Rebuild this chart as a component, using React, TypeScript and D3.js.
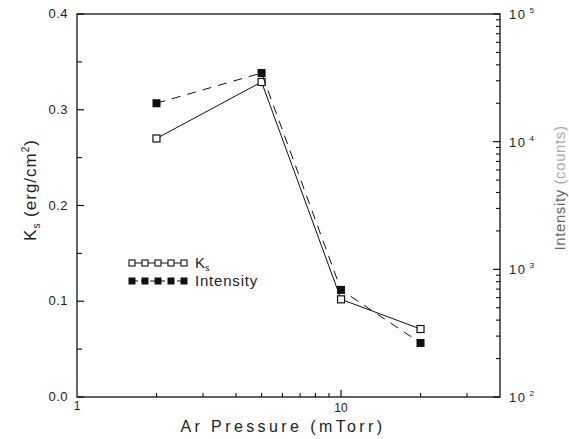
import React from 'react';
import { scaleLog, scaleLinear, line } from 'd3';

// Ar pressure (mTorr) and the two measured series
const pressures = [2, 5, 10, 20];
const ksValues = [0.27, 0.329, 0.102, 0.071];
const intensityValues = [20000, 34500, 690, 265];

const ksTicks = [0, 0.1, 0.2, 0.3, 0.4];
const ksMinorTicks = [0.05, 0.15, 0.25, 0.35];
const pressureLabels = [1, 10];
const intensityDecades = [100, 1000, 10000, 100000];

const W = 569;
const H = 439;
const left = 77, right = 500, top = 14, bottom = 397;
const font = "'Liberation Sans', Arial, sans-serif";

export default function App() {
  const x = scaleLog().domain([1, 40]).range([left, right]);
  const yK = scaleLinear().domain([0, 0.4]).range([bottom, top]);
  const yI = scaleLog().domain([100, 100000]).range([bottom, top]);

  const ksPts = pressures.map((p, i) => [x(p), yK(ksValues[i])] as [number, number]);
  const inPts = pressures.map((p, i) => [x(p), yI(intensityValues[i])] as [number, number]);
  const path = line();

  const xMinor = x.ticks().filter(t => t > 1 && t < 40 && t !== 10);
  const yIMinor = yI.ticks().filter(t => !intensityDecades.includes(t));

  const legendXs = [132, 145, 158, 171, 184];

  return (
    <svg width={W} height={H} style={{ position: 'absolute', left: 0, top: 0, background: '#fff' }}
      fontFamily={font}>
      {/* frame */}
      <rect x={left} y={top} width={right - left} height={bottom - top} fill="none" stroke="#111" strokeWidth={1.3} />

      {/* left axis */}
      {ksTicks.map(t => (
        <g key={'k' + t}>
          <line x1={left} x2={left + 7} y1={yK(t)} y2={yK(t)} stroke="#111" strokeWidth={1.2} />
          <text x={68} y={yK(t) + 4} fontSize={13} textAnchor="end" fill="#222" letterSpacing={0.5}>{t.toFixed(1)}</text>
        </g>
      ))}
      {ksMinorTicks.map(t => (
        <line key={'km' + t} x1={left} x2={left + 5} y1={yK(t)} y2={yK(t)} stroke="#111" strokeWidth={1.1} />
      ))}

      {/* bottom axis */}
      {xMinor.map(t => (
        <line key={'xm' + t} x1={x(t)} x2={x(t)} y1={bottom} y2={bottom - 4} stroke="#111" strokeWidth={1.1} />
      ))}
      <line x1={x(10)} x2={x(10)} y1={bottom} y2={bottom - 7} stroke="#111" strokeWidth={1.2} />
      {pressureLabels.map(t => (
        <text key={'xl' + t} x={x(t)} y={t === 1 ? 410 : 412} fontSize={12} textAnchor="middle" fill="#222">{t}</text>
      ))}

      {/* right axis */}
      {yIMinor.map(t => (
        <line key={'im' + t} x1={right} x2={right - 4} y1={yI(t)} y2={yI(t)} stroke="#111" strokeWidth={1.1} />
      ))}
      {intensityDecades.map(t => (
        <g key={'id' + t}>
          <line x1={right} x2={right - 7} y1={yI(t)} y2={yI(t)} stroke="#111" strokeWidth={1.2} />
          <text x={509} y={yI(t) + 5} fontSize={13} fill="#222" letterSpacing={1.5}>
            10<tspan dy={-6} fontSize={8} dx={3}>{Math.round(Math.log10(t))}</tspan>
          </text>
        </g>
      ))}

      {/* Ks series: solid, open squares */}
      <path d={path(ksPts) || ''} fill="none" stroke="#111" strokeWidth={1} />
      {ksPts.map(([px, py], i) => (
        <rect key={'kp' + i} x={px - 3.5} y={py - 3.5} width={7} height={7} fill="#fff" stroke="#111" strokeWidth={1.2} />
      ))}

      {/* Intensity series: dashed, filled squares */}
      <path d={path(inPts) || ''} fill="none" stroke="#111" strokeWidth={1} strokeDasharray="9,7" />
      {inPts.map(([px, py], i) => (
        <rect key={'ip' + i} x={px - 4} y={py - 4} width={8} height={8} fill="#111" />
      ))}

      {/* legend */}
      <line x1={132} x2={184} y1={263} y2={263} stroke="#111" strokeWidth={1} />
      {legendXs.map(lx => (
        <rect key={'lk' + lx} x={lx - 3} y={260} width={6} height={6} fill="#fff" stroke="#111" strokeWidth={1.1} />
      ))}
      <text x={195} y={268} fontSize={15} fill="#222">K<tspan dy={3} fontSize={9}>s</tspan></text>
      <line x1={132} x2={184} y1={281} y2={281} stroke="#111" strokeWidth={1.2} strokeDasharray="6,3" />
      {legendXs.map(lx => (
        <rect key={'li' + lx} x={lx - 3.5} y={277.5} width={7} height={7} fill="#111" />
      ))}
      <text x={195} y={286} fontSize={15} fill="#222" letterSpacing={0.8}>Intensity</text>

      {/* axis titles */}
      <text transform="translate(36,190) rotate(-90)" fontSize={17} textAnchor="middle" fill="#222" letterSpacing={1}>
        K<tspan dy={4} fontSize={10}>s</tspan><tspan dy={-4}> (erg/cm</tspan><tspan dy={-7} fontSize={10}>2</tspan><tspan dy={7}>)</tspan>
      </text>
      <text x={283} y={432} fontSize={16} textAnchor="middle" fill="#222" letterSpacing={3.4}>Ar Pressure (mTorr)</text>
      <text transform="translate(565,188) rotate(-90)" fontSize={15} textAnchor="middle" letterSpacing={0.6}>
        <tspan fill="#666">Intensity</tspan><tspan fill="#aaa"> (counts)</tspan>
      </text>
    </svg>
  );
}
